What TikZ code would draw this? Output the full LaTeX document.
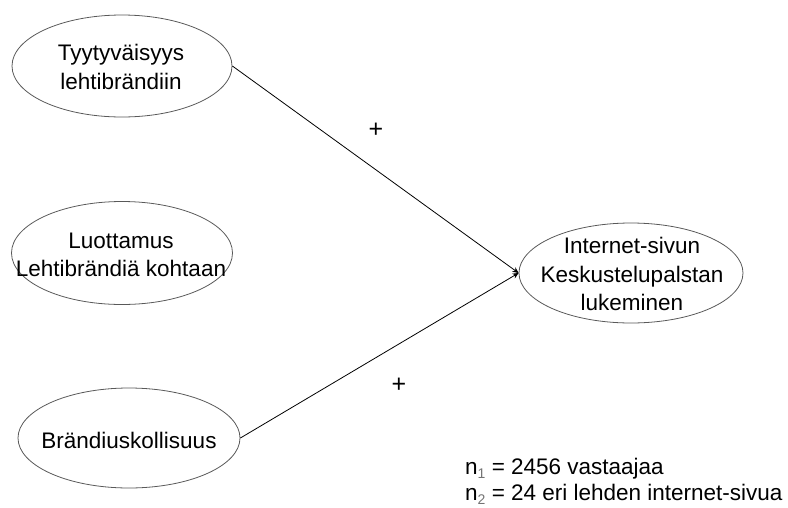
\documentclass[tikz,border=0pt]{standalone}
\usepackage{fontspec}
\setmainfont{Liberation Sans}
\usetikzlibrary{shapes.geometric,arrows.meta}
\begin{document}
\begin{tikzpicture}[x=1pt,y=-1pt,
  oval/.style={ellipse,draw=black!65,line width=0.8pt,inner sep=0pt},
  lbl/.style={align=center,inner sep=0pt,font=\fontsize{22.5}{28.5}\selectfont},
  arr/.style={line width=0.8pt,-{Stealth[length=6pt,width=5.5pt]}}]
\useasboundingbox (0,0) rectangle (788,507);
\node[oval,minimum width=220pt,minimum height=102pt] (e1) at (122,66) {};
\node[lbl] (t1) at (121,67) {Tyytyväisyys\\lehtibrändiin};
\node[oval,minimum width=221pt,minimum height=103pt] (e2) at (122,253) {};
\node[lbl] (t2) at (121,255) {Luottamus\\Lehtibrändiä kohtaan};
\node[oval,minimum width=222pt,minimum height=100pt] (e3) at (129,438) {};
\node[lbl] (t3) at (129,440) {Brändiuskollisuus};
\node[oval,minimum width=224pt,minimum height=100pt] (e4) at (631,273) {};
\node[lbl] (t4) at (632,274) {Internet-sivun\\Keskustelupalstan\\lukeminen};
\draw[arr] (e1.east) -- (e4.west);
\draw[arr] (e3.east) -- (e4.west);
\node[lbl,font=\fontsize{25}{28}\selectfont] (p1) at (376,130) {+};
\node[lbl,font=\fontsize{25}{28}\selectfont] (p2) at (399,385) {+};
\node[lbl,anchor=base west] (n1) at (465,474) {n\raisebox{-0.2em}{\textcolor{black!55}{\fontsize{14}{14}\selectfont 1}} = 2456 vastaajaa};
\node[lbl,anchor=base west] (n2) at (465,500) {n\raisebox{-0.2em}{\textcolor{black!55}{\fontsize{14}{14}\selectfont 2}} = 24 eri lehden internet-sivua};
\end{tikzpicture}
\end{document}
